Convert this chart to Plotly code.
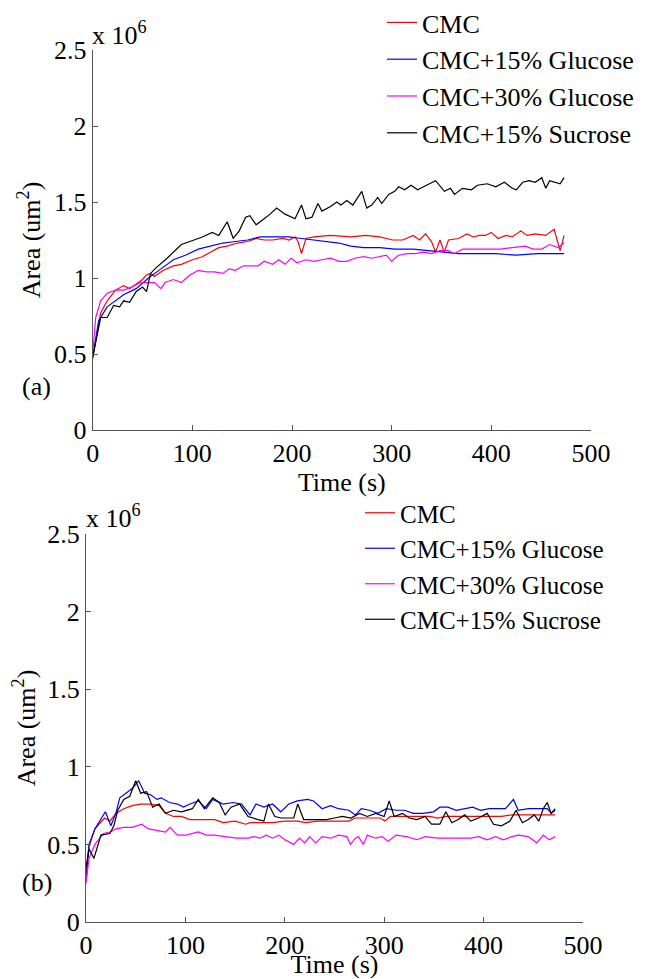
import plotly.graph_objects as go

# ---------------- data (area in units of 10^6 um^2) ----------------
series_names = ["CMC", "CMC+15% Glucose", "CMC+30% Glucose", "CMC+15% Sucrose"]
series_colors = ["#FF0000", "#0000FF", "#FF00FF", "#000000"]

# panel (a)
a_cmc_t = [0, 4, 8, 14.5, 23, 31, 37, 43.6, 50, 54, 58, 62, 70.5, 81, 89, 100, 110, 118, 126.5, 135, 145, 155.6,
           164, 172, 180.5, 191, 197, 203, 206, 209.5, 214, 222, 238.6, 259, 274, 288, 301, 311, 321.6, 328, 334,
           340, 344, 348.5, 352.7, 357, 367, 375.5, 382, 388, 394, 400, 406.6, 415, 421, 429.5, 435.7, 444, 454.6,
           463, 469, 473]
a_cmc_v = [0.47, 0.63, 0.77, 0.85, 0.92, 0.95, 0.93, 0.96, 0.99, 1.02, 1.03, 1.01, 1.05, 1.08, 1.09, 1.12, 1.14,
           1.17, 1.20, 1.21, 1.23, 1.24, 1.26, 1.25, 1.25, 1.26, 1.25, 1.27, 1.24, 1.16, 1.26, 1.27, 1.28, 1.27,
           1.28, 1.27, 1.25, 1.25, 1.28, 1.25, 1.29, 1.24, 1.17, 1.25, 1.17, 1.25, 1.26, 1.29, 1.27, 1.28, 1.28,
           1.30, 1.26, 1.28, 1.27, 1.31, 1.28, 1.29, 1.28, 1.32, 1.18, 1.28]

a_g15_t = [0, 6, 14.5, 23, 31, 43.6, 56, 68.5, 81, 93, 106, 118, 130.7, 143, 155.6, 168, 180.5, 197, 209.5, 222,
           234.5, 247, 259, 272, 288, 303, 321.6, 338, 355.6, 367, 384, 404.5, 425, 446, 473]
a_g15_v = [0.48, 0.72, 0.81, 0.85, 0.89, 0.93, 1.00, 1.06, 1.12, 1.15, 1.19, 1.21, 1.23, 1.24, 1.25, 1.27, 1.27,
           1.27, 1.26, 1.25, 1.24, 1.23, 1.21, 1.20, 1.20, 1.19, 1.19, 1.18, 1.17, 1.16, 1.16, 1.16, 1.15, 1.16,
           1.16]

a_g30_t = [0, 3, 8, 14.5, 23, 31, 39, 47.7, 56, 62, 68.5, 72.6, 81, 89, 97.5, 106, 114, 122, 130.7, 137, 143,
           151.5, 160, 166, 172, 180.5, 186.7, 193, 199, 205, 214, 222, 230, 238.6, 247, 255, 263, 272, 280, 288,
           294.6, 300, 307, 315.6, 323.6, 332, 340, 348.5, 357, 363, 371, 384, 396, 409, 421, 434, 442, 450.6,
           458.5, 467, 473]
a_g30_v = [0.50, 0.74, 0.85, 0.90, 0.92, 0.92, 0.94, 0.97, 0.97, 0.97, 0.93, 0.97, 0.99, 0.97, 1.02, 1.05, 1.04,
           1.04, 1.03, 1.06, 1.05, 1.08, 1.08, 1.08, 1.11, 1.09, 1.12, 1.09, 1.13, 1.10, 1.12, 1.11, 1.12, 1.13,
           1.11, 1.11, 1.13, 1.14, 1.13, 1.14, 1.15, 1.11, 1.15, 1.16, 1.16, 1.17, 1.16, 1.18, 1.18, 1.16, 1.19,
           1.19, 1.19, 1.19, 1.20, 1.21, 1.19, 1.19, 1.22, 1.20, 1.23]

a_s15_t = [0, 8, 14.5, 21, 27, 31, 37, 43.5, 50, 54, 58, 64, 73, 81, 89, 97.5, 110, 120, 126.5, 135, 141, 147,
           153.5, 157.7, 164, 172, 178, 184.6, 193, 203, 209.5, 214, 220, 226, 230, 238.6, 245, 249, 255, 261,
           270, 275, 280, 286, 290, 297, 303, 307, 313, 319.5, 326, 332, 344, 353, 359, 363, 371, 380, 386, 396,
           404.5, 413, 421, 425, 431.5, 438, 444, 450.6, 454.6, 458.5, 465, 469, 473]
a_s15_v = [0.48, 0.74, 0.74, 0.82, 0.81, 0.85, 0.84, 0.91, 0.94, 0.91, 1.03, 1.07, 1.12, 1.17, 1.22, 1.24, 1.27,
           1.30, 1.28, 1.37, 1.26, 1.31, 1.40, 1.41, 1.35, 1.39, 1.42, 1.46, 1.42, 1.39, 1.48, 1.39, 1.40, 1.49,
           1.44, 1.47, 1.50, 1.48, 1.51, 1.48, 1.57, 1.46, 1.48, 1.53, 1.49, 1.55, 1.57, 1.60, 1.58, 1.61, 1.58,
           1.60, 1.64, 1.57, 1.59, 1.55, 1.59, 1.58, 1.61, 1.62, 1.60, 1.63, 1.59, 1.58, 1.63, 1.64, 1.63, 1.66,
           1.59, 1.64, 1.63, 1.62, 1.66]

# panel (b)
b_cmc_t = [0, 3, 9, 18.7, 24, 30, 38, 46.5, 55, 65, 73.5, 80, 88, 96, 104.6, 113, 123, 129.6, 138, 150, 160.7,
           165, 175, 187.7, 200, 212.6, 221, 233, 246, 254, 264.5, 271, 283, 295.7, 300.7, 306, 320.6, 333, 345.5,
           354, 362, 378.7, 395, 412, 418, 428.6, 445, 462, 472]
b_cmc_v = [0.30, 0.50, 0.60, 0.67, 0.65, 0.70, 0.73, 0.75, 0.76, 0.76, 0.75, 0.70, 0.68, 0.68, 0.66, 0.66, 0.66,
           0.66, 0.64, 0.65, 0.63, 0.64, 0.64, 0.64, 0.65, 0.65, 0.64, 0.65, 0.65, 0.65, 0.65, 0.67, 0.67, 0.67,
           0.65, 0.68, 0.68, 0.68, 0.68, 0.67, 0.68, 0.68, 0.68, 0.68, 0.68, 0.69, 0.69, 0.69, 0.69]

b_g15_t = [0, 3, 9, 19.5, 25, 30, 34, 42, 46.5, 53, 59, 65, 71.4, 75.6, 84, 92, 98, 104.6, 113, 121, 127.5, 138,
           148, 156.5, 165, 171, 179, 187.7, 196, 204, 212.6, 223, 229, 237.5, 246, 254, 264.5, 271, 277, 285,
           293.6, 302, 312, 320.6, 329, 339, 349.6, 356, 364, 372.5, 381, 389, 397, 405.7, 414, 422, 430, 434.8,
           445, 455.6, 464, 468, 472]
b_g15_v = [0.26, 0.49, 0.60, 0.71, 0.62, 0.70, 0.80, 0.84, 0.86, 0.91, 0.83, 0.82, 0.79, 0.80, 0.77, 0.76, 0.74,
           0.76, 0.78, 0.73, 0.79, 0.76, 0.77, 0.76, 0.69, 0.76, 0.74, 0.76, 0.71, 0.76, 0.78, 0.79, 0.78, 0.73,
           0.75, 0.73, 0.72, 0.69, 0.73, 0.72, 0.70, 0.73, 0.72, 0.72, 0.70, 0.70, 0.71, 0.74, 0.74, 0.72, 0.73,
           0.74, 0.72, 0.73, 0.73, 0.73, 0.79, 0.72, 0.73, 0.73, 0.73, 0.70, 0.73]

b_g30_t = [0, 3, 9, 17.4, 24, 30, 38, 46.5, 56, 63, 71.4, 80, 84.7, 92, 100.5, 113, 121, 129.6, 140, 152, 163,
           169, 175, 181.5, 187.7, 194, 200, 209, 214.7, 220, 225, 231, 237.5, 246, 254, 262.5, 266, 271, 274,
           279, 283, 291.5, 297.7, 304, 312, 322.7, 333, 341, 354, 366, 374.6, 387, 395, 403.6, 412, 420, 428.6,
           434.8, 445, 453.5, 460, 466, 472]
b_g30_v = [0.25, 0.41, 0.50, 0.57, 0.58, 0.60, 0.61, 0.61, 0.63, 0.60, 0.59, 0.58, 0.61, 0.56, 0.56, 0.58, 0.56,
           0.56, 0.55, 0.54, 0.54, 0.55, 0.54, 0.56, 0.54, 0.56, 0.53, 0.50, 0.54, 0.51, 0.55, 0.51, 0.55, 0.54,
           0.56, 0.55, 0.50, 0.54, 0.55, 0.50, 0.56, 0.54, 0.55, 0.52, 0.56, 0.55, 0.53, 0.55, 0.54, 0.54, 0.54,
           0.54, 0.55, 0.53, 0.55, 0.53, 0.55, 0.56, 0.55, 0.51, 0.56, 0.53, 0.55]

b_s15_t = [0, 3, 8, 15, 24, 28, 32, 38, 44, 50, 55, 61, 67, 73.5, 80, 88, 96, 107, 113, 119, 127.5, 134, 140,
           146, 154.5, 163, 173, 179, 183.5, 190, 196, 204, 209, 213, 219, 229, 242, 250, 258, 266.6, 275, 283,
           291.5, 300, 305, 310, 318.5, 325, 333, 341, 347.6, 356, 362, 368, 374.5, 381, 387, 395, 403.6, 410,
           418, 426.5, 432.7, 439, 445, 451, 455.6, 460, 464, 468, 472]
b_s15_v = [0.35, 0.47, 0.41, 0.56, 0.57, 0.62, 0.72, 0.79, 0.81, 0.91, 0.83, 0.84, 0.74, 0.76, 0.70, 0.72, 0.71,
           0.73, 0.79, 0.73, 0.80, 0.77, 0.69, 0.74, 0.76, 0.68, 0.66, 0.65, 0.76, 0.68, 0.67, 0.67, 0.67, 0.76,
           0.66, 0.66, 0.66, 0.67, 0.68, 0.67, 0.70, 0.68, 0.70, 0.68, 0.78, 0.68, 0.70, 0.67, 0.66, 0.68, 0.63,
           0.63, 0.71, 0.64, 0.66, 0.69, 0.65, 0.67, 0.70, 0.63, 0.62, 0.65, 0.72, 0.64, 0.66, 0.69, 0.65, 0.73,
           0.77, 0.70, 0.72]

x_tick_vals = [0, 100, 200, 300, 400, 500]
y_tick_vals = [0, 0.5, 1, 1.5, 2, 2.5]
y_tick_text = ["0", "0.5", "1", "1.5", "2", "2.5"]

panel_a = [(a_cmc_t, a_cmc_v), (a_g15_t, a_g15_v), (a_g30_t, a_g30_v), (a_s15_t, a_s15_v)]
panel_b = [(b_cmc_t, b_cmc_v), (b_g15_t, b_g15_v), (b_g30_t, b_g30_v), (b_s15_t, b_s15_v)]

# ---------------- figure ----------------
# the page body has an 8 px margin, so the figure is 8 px smaller and offset
OFF = 8
W, H = 648 - OFF, 979 - OFF
FONT = "Liberation Serif"
FS = 26


def px(x):
    return (x - OFF) / W


def py(y):
    return 1 - (y - OFF) / H


fig = go.Figure()

for i, (t, v) in enumerate(panel_a):
    fig.add_trace(go.Scatter(x=t, y=v, mode="lines", name=series_names[i],
                             line=dict(color=series_colors[i], width=1.2),
                             xaxis="x", yaxis="y", legend="legend"))
for i, (t, v) in enumerate(panel_b):
    fig.add_trace(go.Scatter(x=t, y=v, mode="lines", name=series_names[i],
                             line=dict(color=series_colors[i], width=1.2),
                             xaxis="x2", yaxis="y2", legend="legend2"))

axis_common = dict(showgrid=False, zeroline=False, showline=True, linecolor="#555555", linewidth=1,
                   ticks="inside", ticklen=5, tickcolor="#555555", mirror=False, automargin=False,
                   tickfont=dict(family=FONT, size=FS, color="black"))

fig.update_layout(
    width=W, height=H,
    margin=dict(l=0, r=0, t=0, b=0, autoexpand=False),
    paper_bgcolor="white", plot_bgcolor="white",
    font=dict(family=FONT, size=FS, color="black"),
    xaxis=dict(domain=[px(92.7), px(591)], anchor="y", range=[0, 500], tickvals=x_tick_vals,
               title=dict(text="Time (s)", standoff=0, font=dict(family=FONT, size=FS)), **axis_common),
    yaxis=dict(domain=[py(430), py(50)], anchor="x", range=[0, 2.5], tickvals=y_tick_vals,
               ticktext=y_tick_text,
               title=dict(text="Area (um<sup>2</sup>)", standoff=5, font=dict(family=FONT, size=FS)),
               **axis_common),
    xaxis2=dict(domain=[px(86), px(583)], anchor="y2", range=[0, 500], tickvals=x_tick_vals,
                title=dict(text="Time (s)", standoff=3, font=dict(family=FONT, size=FS)), **axis_common),
    yaxis2=dict(domain=[py(922), py(534)], anchor="x2", range=[0, 2.5], tickvals=y_tick_vals,
                ticktext=y_tick_text,
                title=dict(text="Area (um<sup>2</sup>)", standoff=5, font=dict(family=FONT, size=FS)),
                **axis_common),
    legend=dict(x=px(382), y=py(-1), xanchor="left", yanchor="top", bgcolor="rgba(0,0,0,0)",
                borderwidth=0, font=dict(family=FONT, size=FS), tracegroupgap=0),
    legend2=dict(x=px(360), y=py(490), xanchor="left", yanchor="top", bgcolor="rgba(0,0,0,0)",
                 borderwidth=0, font=dict(family=FONT, size=25), tracegroupgap=0),
    showlegend=True,
)

annotations = [
    dict(text="x 10<sup>6</sup>", x=px(90), y=py(33), xref="paper", yref="paper",
         xanchor="left", yanchor="middle", showarrow=False, font=dict(family=FONT, size=FS)),
    dict(text="(a)", x=px(20), y=py(386), xref="paper", yref="paper",
         xanchor="left", yanchor="middle", showarrow=False, font=dict(family=FONT, size=FS)),
    dict(text="x 10<sup>6</sup>", x=px(84), y=py(517), xref="paper", yref="paper",
         xanchor="left", yanchor="middle", showarrow=False, font=dict(family=FONT, size=FS)),
    dict(text="(b)", x=px(20), y=py(882), xref="paper", yref="paper",
         xanchor="left", yanchor="middle", showarrow=False, font=dict(family=FONT, size=FS)),
]
fig.update_layout(annotations=annotations)

fig.write_html("out.html")
